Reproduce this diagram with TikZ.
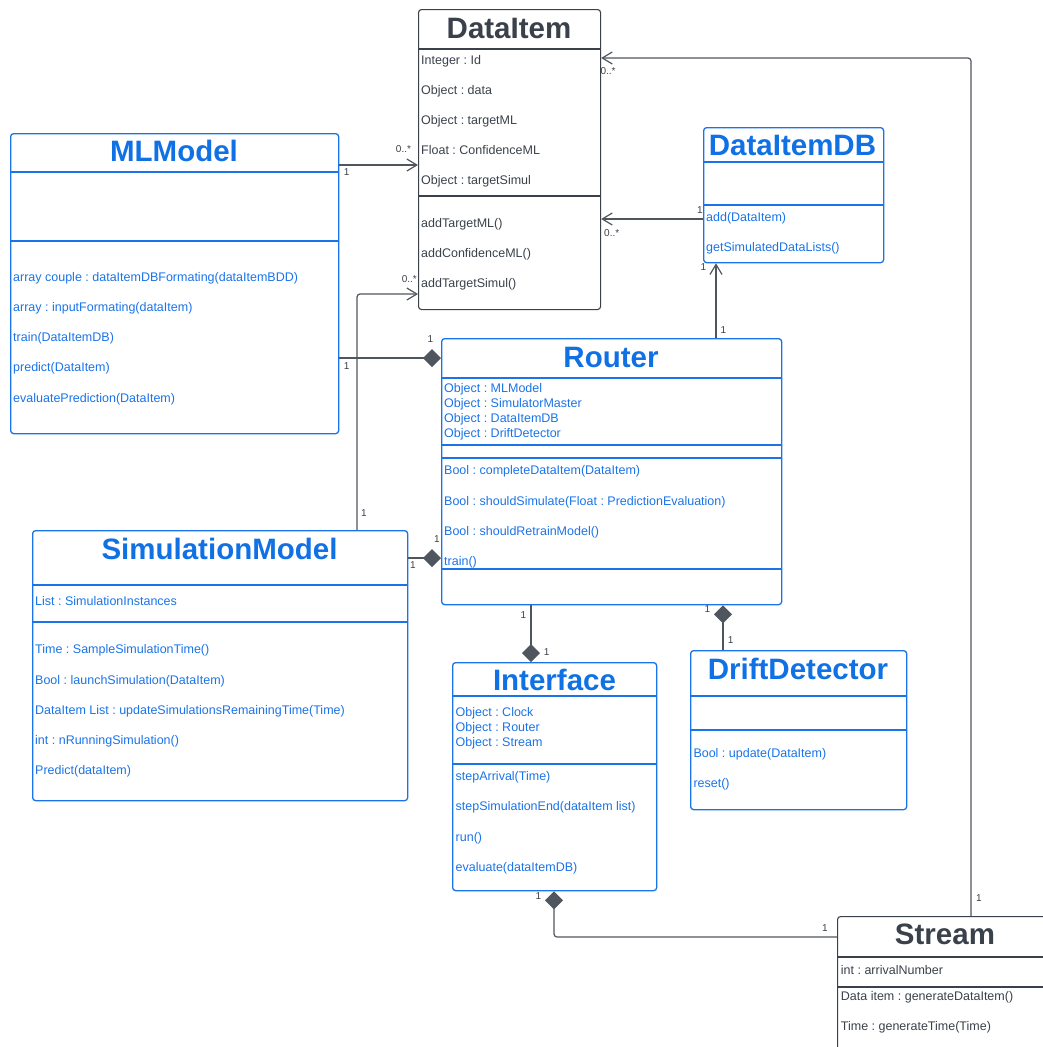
\documentclass[tikz,border=0pt]{standalone}
\usepackage{fontspec}
\setmainfont{Liberation Sans}
\usetikzlibrary{arrows.meta}
\definecolor{ink}{HTML}{3A414A}
\definecolor{blu}{HTML}{1A73E8}
\definecolor{tblu}{HTML}{1071E5}
\definecolor{lin}{HTML}{50565E}
\frenchspacing
\tikzset{
 box/.style={draw, rounded corners=3pt, line width=1.3pt, anchor=north west, inner sep=0pt},
 bbox/.style={box, draw=blu},
 gbox/.style={box, draw=ink, line width=1.1pt},
 bsep/.style={draw=blu, line width=1.3pt},
 gsep/.style={draw=ink, line width=1.1pt},
 txt/.style={anchor=west, inner sep=0pt, text height=9pt, text depth=0pt, font=\fontsize{12.5}{15}\selectfont\frenchspacing},
 btxt/.style={txt, text=blu},
 gtxt/.style={txt, text=ink},
 ttl/.style={inner sep=0pt, text height=21pt, text depth=0pt, font=\fontsize{29.5}{34}\selectfont\bfseries},
 bttl/.style={ttl, text=tblu},
 gttl/.style={ttl, text=ink},
 lab/.style={inner sep=0pt, font=\fontsize{10}{12}\selectfont, text=ink},
 conn/.style={draw=lin, line width=1.2pt},
 assoc/.style={conn, -{Straight Barb[length=10pt,width=12pt]}},
 comp/.style={conn, {Diamond[length=18pt,width=18pt]}-},
}
\begin{document}
\begin{tikzpicture}[x=1pt,y=-1pt]
\useasboundingbox (0,0) rectangle (1043,1047);

% ---------- DataItem ----------
\node[gbox, minimum width=182pt, minimum height=300pt] (dataitem) at (418,9) {};
\draw[gsep] (418,49) -- (600,49);
\draw[gsep] (418,196) -- (600,196);
\node[gttl] (t1) at (509,27.5) {DataItem};
\node[gtxt] (d1) at (421,60) {Integer : Id};
\node[gtxt] (d2) at (421,90) {Object : data};
\node[gtxt] (d3) at (421,120) {Object : targetML};
\node[gtxt] (d4) at (421,150) {Float : ConfidenceML};
\node[gtxt] (d5) at (421,180) {Object : targetSimul};
\node[gtxt] (d6) at (421,222.5) {addTargetML()};
\node[gtxt] (d7) at (421,252.5) {addConfidenceML()};
\node[gtxt] (d8) at (421,283) {addTargetSimul()};

% ---------- MLModel ----------
\node[bbox, minimum width=328pt, minimum height=300pt] (mlmodel) at (10,133) {};
\draw[bsep] (10,172) -- (338,172);
\draw[bsep] (10,241) -- (338,241);
\node[bttl] (t2) at (174,151) {MLModel};
\node[btxt] (m1) at (13,276.7) {array couple : dataItemDBFormating(dataItemBDD)};
\node[btxt] (m2) at (13,306.7) {array : inputFormating(dataItem)};
\node[btxt] (m3) at (13,337) {train(DataItemDB)};
\node[btxt] (m4) at (13,367) {predict(DataItem)};
\node[btxt] (m5) at (13,397.7) {evaluatePrediction(DataItem)};

% ---------- DataItemDB ----------
\node[bbox, minimum width=180pt, minimum height=135pt] (dbox) at (703,127) {};
\draw[bsep] (703,162) -- (883,162);
\draw[bsep] (703,205) -- (883,205);
\node[bttl] (t3) at (792.5,144.5) {DataItemDB};
\node[btxt] (b1) at (706,217) {add(DataItem)};
\node[btxt] (b2) at (706,247) {getSimulatedDataLists()};

% ---------- Router ----------
\node[bbox, minimum width=340pt, minimum height=266pt] (router) at (441,338) {};
\draw[bsep] (441,378) -- (781,378);
\draw[bsep] (441,445) -- (781,445);
\draw[bsep] (441,458) -- (781,458);
\draw[bsep] (441,569) -- (781,569);
\node[bttl] (t4) at (611,356.5) {Router};
\node[btxt] (r1) at (444,388.3) {Object : MLModel};
\node[btxt] (r2) at (444,403.3) {Object : SimulatorMaster};
\node[btxt] (r3) at (444,418.3) {Object : DataItemDB};
\node[btxt] (r4) at (444,433.3) {Object : DriftDetector};
\node[btxt] (r5) at (444,470) {Bool : completeDataItem(DataItem)};
\node[btxt] (r6) at (444,500.5) {Bool : shouldSimulate(Float : PredictionEvaluation)};
\node[btxt] (r7) at (444,530.5) {Bool : shouldRetrainModel()};
\node[btxt] (r8) at (444,561) {train()};

% ---------- SimulationModel ----------
\node[bbox, minimum width=375pt, minimum height=270pt] (sim) at (32,530) {};
\draw[bsep] (32,585) -- (407,585);
\draw[bsep] (32,622) -- (407,622);
\node[bttl] (t5) at (219.5,548.5) {SimulationModel};
\node[btxt] (s1) at (35,601.3) {List : SimulationInstances};
\node[btxt] (s2) at (35,649.3) {Time : SampleSimulationTime()};
\node[btxt] (s3) at (35,680) {Bool : launchSimulation(DataItem)};
\node[btxt] (s4) at (35,710) {DataItem List : updateSimulationsRemainingTime(Time)};
\node[btxt] (s5) at (35,740) {int : nRunningSimulation()};
\node[btxt] (s6) at (35,770.3) {Predict(dataItem)};

% ---------- Interface ----------
\node[bbox, minimum width=204pt, minimum height=228pt] (iface) at (452,662) {};
\draw[bsep] (452,696) -- (656,696);
\draw[bsep] (452,764) -- (656,764);
\node[bttl] (t6) at (554.5,680) {Interface};
\node[btxt] (i1) at (455.5,711.7) {Object : Clock};
\node[btxt] (i2) at (455.5,727.3) {Object : Router};
\node[btxt] (i3) at (455.5,742.3) {Object : Stream};
\node[btxt] (i4) at (455.5,776) {stepArrival(Time)};
\node[btxt] (i5) at (455.5,806) {stepSimulationEnd(dataItem list)};
\node[btxt] (i6) at (455.5,836.7) {run()};
\node[btxt] (i7) at (455.5,866.7) {evaluate(dataItemDB)};

% ---------- DriftDetector ----------
\node[bbox, minimum width=216pt, minimum height=159pt] (drift) at (690,650) {};
\draw[bsep] (690,696) -- (906,696);
\draw[bsep] (690,730) -- (906,730);
\node[bttl] (t7) at (798,668.5) {DriftDetector};
\node[btxt] (f1) at (693.3,752.7) {Bool : update(DataItem)};
\node[btxt] (f2) at (693.3,783) {reset()};

% ---------- Stream ----------
\node[gbox, minimum width=216pt, minimum height=160pt] (stream) at (837,916) {};
\draw[gsep] (837,957) -- (1053,957);
\draw[gsep] (837,987) -- (1053,987);
\node[gttl] (t8) at (945,934) {Stream};
\node[gtxt] (st1) at (840.7,969.7) {int : arrivalNumber};
\node[gtxt] (st2) at (840.7,996) {Data item : generateDataItem()};
\node[gtxt] (st3) at (840.7,1025.5) {Time : generateTime(Time)};

% ---------- Connectors ----------
\draw[assoc] ([yshift=-32pt]mlmodel.north east) -- ([yshift=-156pt]dataitem.north west);
\draw[assoc] ([yshift=-92pt]dbox.north west) -- ([yshift=-210pt]dataitem.north east);
\draw[assoc, rounded corners=3pt] ([xshift=134pt]stream.north west) |- ([yshift=-49pt]dataitem.north east);
\draw[assoc, rounded corners=3pt] ([xshift=325pt]sim.north west) |- ([yshift=-285pt]dataitem.north west);
\draw[comp] ([yshift=-20pt]router.north west) -- ([yshift=-225pt]mlmodel.north east);
\draw[comp] ([yshift=-220pt]router.north west) -- ([yshift=-28pt]sim.north east);
\draw[assoc] ([xshift=275pt]router.north west) -- ([xshift=13pt]dbox.south west);
\draw[comp] ([xshift=79pt]iface.north west) -- ([xshift=90pt]router.south west);
\draw[comp] ([xshift=282pt]router.south west) -- ([xshift=33pt]drift.north west);
\draw[comp, rounded corners=3pt] ([xshift=102pt]iface.south west) |- ([yshift=-21pt]stream.north west);

% ---------- Multiplicities ----------
\node[lab] (l1) at (346.7,171.7) {1};
\node[lab] (l2) at (403.5,149) {0..*};
\node[lab] (l3) at (700,210) {1};
\node[lab] (l4) at (611.7,232.7) {0..*};
\node[lab] (l5) at (608,71.5) {0..*};
\node[lab] (l6) at (979,898) {1};
\node[lab] (l7) at (364,513.3) {1};
\node[lab] (l8) at (409.3,279.3) {0..*};
\node[lab] (l9) at (346.7,365.7) {1};
\node[lab] (l10) at (430.3,339.3) {1};
\node[lab] (l11) at (413,565) {1};
\node[lab] (l12) at (437,539) {1};
\node[lab] (l13) at (723.3,330) {1};
\node[lab] (l14) at (703.3,266.7) {1};
\node[lab] (l15) at (523.3,615) {1};
\node[lab] (l16) at (546.7,652) {1};
\node[lab] (l17) at (707.3,609.3) {1};
\node[lab] (l18) at (730.7,640) {1};
\node[lab] (l19) at (538.3,895.7) {1};
\node[lab] (l20) at (825,927.7) {1};
\end{tikzpicture}
\end{document}
